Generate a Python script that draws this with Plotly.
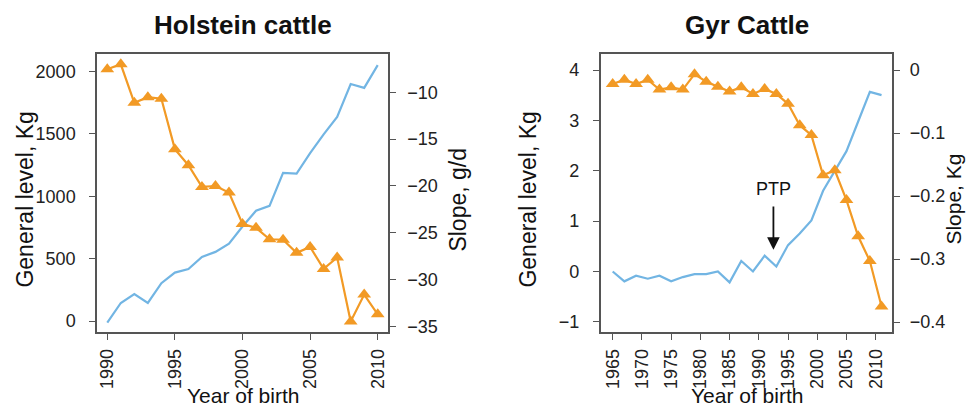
import plotly.graph_objects as go

# ---------------- Data ----------------
hol_years = list(range(1990, 2011))
hol_level = [-13, 145, 216, 145, 303, 388, 417, 514, 554, 620, 757, 884, 923,
             1187, 1182, 1345, 1496, 1636, 1899, 1868, 2050]
hol_slope = [-7.55, -7.02, -11.13, -10.53, -10.7, -16.07, -17.79, -20.1, -20.0,
             -20.7, -24.04, -24.46, -25.68, -25.73, -27.13, -26.5, -28.84,
             -27.62, -34.44, -31.58, -33.68]

gyr_years = list(range(1965, 2012, 2))
gyr_level = [0.0, -0.196, -0.085, -0.144, -0.085, -0.196, -0.111, -0.052, -0.052,
             0.0, -0.216, 0.209, 0.0, 0.314, 0.098, 0.524, 0.753, 1.014, 1.603,
             1.996, 2.389, 2.978, 3.567, 3.501]
gyr_slope = [-0.022, -0.0152, -0.022, -0.0152, -0.0309, -0.0272, -0.0309, -0.0063,
             -0.0183, -0.0262, -0.034, -0.0272, -0.0377, -0.0298, -0.0377,
             -0.0534, -0.0874, -0.1031, -0.167, -0.159, -0.2063, -0.2639,
             -0.3031, -0.3754]

hol_xticks = [1990, 1995, 2000, 2005, 2010]
hol_yticks = [0, 500, 1000, 1500, 2000]
hol_y2ticks = [-35, -30, -25, -20, -15, -10]
gyr_xticks = list(range(1965, 2011, 5))
gyr_yticks = [-1, 0, 1, 2, 3, 4]
gyr_y2ticks = [0, -0.1, -0.2, -0.3, -0.4]

BLUE = "#72B5E3"
ORANGE = "#F29A25"
FRAME = "#555555"
FONT = "Liberation Sans, Arial, sans-serif"

# page body has an 8px default margin: fit the figure inside the visible area
OFF = 8
W, H = 974 - 2 * OFF, 418 - 2 * OFF
def px(x):
    return (x - OFF) / W
def py(y):
    return 1 - (y - OFF) / H

fig = go.Figure()

fig.add_trace(go.Scatter(x=hol_years, y=hol_level, mode="lines",
                         line=dict(color=BLUE, width=2.2), xaxis="x", yaxis="y"))
fig.add_trace(go.Scatter(x=hol_years, y=hol_slope, mode="lines+markers",
                         line=dict(color=ORANGE, width=2.2),
                         marker=dict(symbol="triangle-up", size=12, color=ORANGE),
                         xaxis="x", yaxis="y2"))
fig.add_trace(go.Scatter(x=gyr_years, y=gyr_level, mode="lines",
                         line=dict(color=BLUE, width=2.2), xaxis="x2", yaxis="y3"))
fig.add_trace(go.Scatter(x=gyr_years, y=gyr_slope, mode="lines+markers",
                         line=dict(color=ORANGE, width=2.2),
                         marker=dict(symbol="triangle-up", size=12, color=ORANGE),
                         xaxis="x2", yaxis="y4"))

common = dict(showgrid=False, zeroline=False, showline=True, linecolor=FRAME,
              linewidth=1.5, ticks="outside", ticklen=6, tickcolor=FRAME,
              tickwidth=1.2, tickfont=dict(size=18, color="#222222", family=FONT))

ydom = [py(336), py(55)]
fig.update_layout(
    width=W, height=H, autosize=False, showlegend=False,
    margin=dict(l=0, r=0, t=0, b=0),
    paper_bgcolor="white", plot_bgcolor="white",
    font=dict(family=FONT, color="#111111"),
    xaxis=dict(domain=[px(97), px(388)], range=[1989.24, 2010.76],
               tickvals=hol_xticks, tickangle=-90, anchor="y",
               mirror=True, ticklabelstandoff=2, **common),
    yaxis=dict(domain=ydom, range=[-87, 2136], tickvals=hol_yticks,
               anchor="x", ticklabelstandoff=10, **common),
    yaxis2=dict(range=[-35.56, -5.97], tickvals=hol_y2ticks,
                ticktext=[f"\u2212{abs(v)}" for v in hol_y2ticks],
                overlaying="y", side="right", anchor="x", ticklabelstandoff=8,
                **common),
    xaxis2=dict(domain=[px(600.7), px(892.3)], range=[1962.95, 2012.84],
                tickvals=gyr_xticks, tickangle=-90, anchor="y3",
                mirror=True, ticklabelstandoff=2, **common),
    yaxis3=dict(domain=ydom, range=[-1.2, 4.31], tickvals=gyr_yticks,
                ticktext=["\u22121", "0", "1", "2", "3", "4"],
                anchor="x2", ticklabelstandoff=10, **common),
    yaxis4=dict(range=[-0.4157, 0.025], tickvals=gyr_y2ticks,
                ticktext=["0", "\u22120.1", "\u22120.2", "\u22120.3", "\u22120.4"],
                overlaying="y3", side="right", anchor="x2", ticklabelstandoff=6,
                **common),
)

ann = []
# Panel titles
ann.append(dict(text="<b>Holstein cattle</b>", x=px(242.5), y=py(25), xref="paper",
                yref="paper", showarrow=False, font=dict(size=26, color="#111111"),
                xanchor="center", yanchor="middle"))
ann.append(dict(text="<b>Gyr Cattle</b>", x=px(746.5), y=py(25), xref="paper",
                yref="paper", showarrow=False, font=dict(size=26, color="#111111"),
                xanchor="center", yanchor="middle"))
# Axis titles
for xc in (242.5, 746.5):
    ann.append(dict(text="Year of birth", x=px(xc), y=py(400), xref="paper",
                    yref="paper", showarrow=False, font=dict(size=21),
                    xanchor="center", yanchor="middle"))
ann.append(dict(text="General level, Kg", x=px(25), y=py(202), xref="paper",
                yref="paper", showarrow=False, font=dict(size=23), textangle=-90,
                xanchor="center", yanchor="middle"))
ann.append(dict(text="General level, Kg", x=px(528), y=py(202), xref="paper",
                yref="paper", showarrow=False, font=dict(size=23), textangle=-90,
                xanchor="center", yanchor="middle"))
ann.append(dict(text="Slope, g/d", x=px(458), y=py(202), xref="paper",
                yref="paper", showarrow=False, font=dict(size=23), textangle=-90,
                xanchor="center", yanchor="middle"))
ann.append(dict(text="Slope, Kg", x=px(954), y=py(202), xref="paper",
                yref="paper", showarrow=False, font=dict(size=21), textangle=-90,
                xanchor="center", yanchor="middle"))
# PTP arrow
ann.append(dict(text="PTP", x=1992.5, y=1.64, xref="x2", yref="y3",
                showarrow=False, font=dict(size=18, color="#111111"),
                xanchor="center", yanchor="middle"))
ann.append(dict(text="", x=1992.5, y=0.43, ax=1992.5, ay=1.32, xref="x2",
                yref="y3", axref="x2", ayref="y3", showarrow=True,
                arrowhead=2, arrowsize=1.4, arrowwidth=1.8, arrowcolor="#111111"))

fig.update_layout(annotations=ann)
fig.write_html("out.html")
